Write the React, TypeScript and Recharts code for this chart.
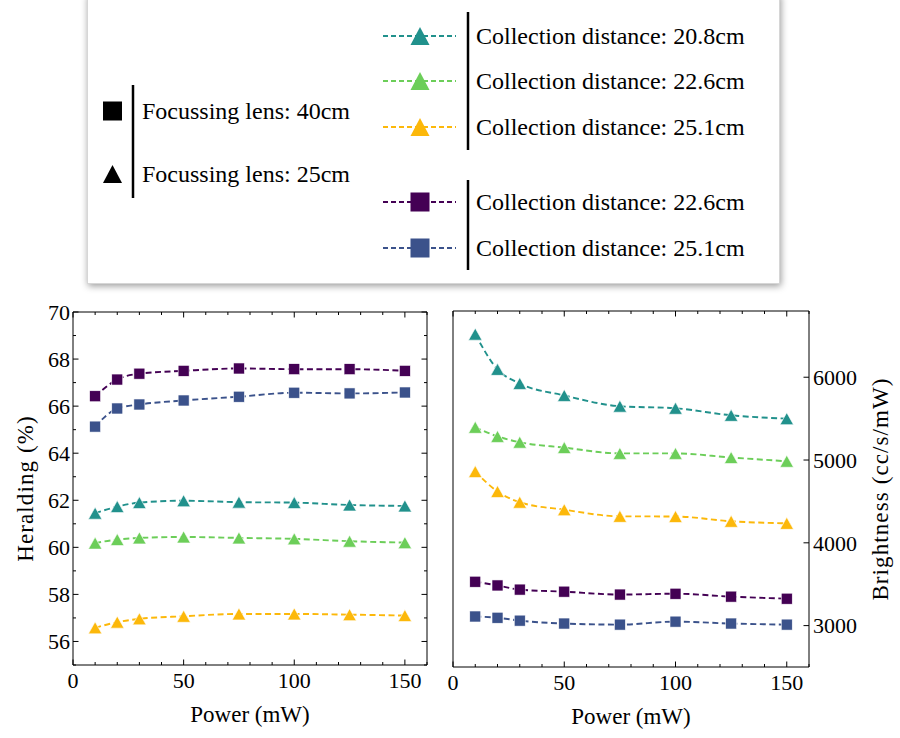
import React from 'react';
import { LineChart, Line, XAxis, YAxis } from 'recharts';

const power = [10, 20, 30, 50, 75, 100, 125, 150];

// heralding efficiency (%)
const herald40_226 = [66.42, 67.13, 67.38, 67.5, 67.6, 67.57, 67.57, 67.5];
const herald40_251 = [65.13, 65.9, 66.07, 66.24, 66.4, 66.57, 66.54, 66.58];
const herald25_208 = [61.45, 61.73, 61.9, 61.98, 61.92, 61.9, 61.8, 61.76];
const herald25_226 = [60.18, 60.33, 60.4, 60.44, 60.4, 60.36, 60.26, 60.2];
const herald25_251 = [56.58, 56.82, 56.96, 57.07, 57.17, 57.17, 57.14, 57.1];

// brightness (cc/s/mW)
const bright40_226 = [3530, 3485, 3435, 3410, 3375, 3385, 3350, 3325];
const bright40_251 = [3110, 3095, 3060, 3025, 3012, 3048, 3025, 3012];
const bright25_208 = [6520, 6095, 5925, 5780, 5650, 5625, 5540, 5500];
const bright25_226 = [5395, 5285, 5215, 5150, 5080, 5080, 5030, 4985];
const bright25_251 = [4860, 4620, 4490, 4400, 4320, 4318, 4260, 4235];

const xTicks = [0, 10, 20, 30, 40, 50, 60, 70, 80, 90, 100, 110, 120, 130, 140, 150, 160];
const xMajor = [0, 50, 100, 150];
const heraldTicks = [55, 56, 57, 58, 59, 60, 61, 62, 63, 64, 65, 66, 67, 68, 69, 70];
const heraldMajor = [56, 58, 60, 62, 64, 66, 68, 70];
const brightTicks = [3000, 4000, 5000, 6000];

const FONT = "'Liberation Serif', 'DejaVu Serif', serif";

const C = {
  purple: '#440154',
  blue: '#3b528b',
  teal: '#21918c',
  green: '#6cce59',
  yellow: '#fcb80a',
};

const series = [
  { key: 'sq226', color: C.purple, shape: 'sq' },
  { key: 'sq251', color: C.blue, shape: 'sq' },
  { key: 'tr208', color: C.teal, shape: 'tri' },
  { key: 'tr226', color: C.green, shape: 'tri' },
  { key: 'tr251', color: C.yellow, shape: 'tri' },
];

const heraldRows = power.map((p, i) => ({
  p,
  sq226: herald40_226[i],
  sq251: herald40_251[i],
  tr208: herald25_208[i],
  tr226: herald25_226[i],
  tr251: herald25_251[i],
}));

const brightRows = power.map((p, i) => ({
  p,
  sq226: bright40_226[i],
  sq251: bright40_251[i],
  tr208: bright25_208[i],
  tr226: bright25_226[i],
  tr251: bright25_251[i],
}));

const txt = { fontFamily: FONT, fontSize: 22, fill: '#000' };
const legendTxt = { fontFamily: FONT, fontSize: 24, fill: '#000' };

const makeDot = (color: string, shape: string) => (props: any) => {
  const { cx, cy, index } = props;
  if (cx == null || cy == null) return <g key={`d-${index}`} />;
  if (shape === 'sq') {
    const s = 11;
    return (
      <rect key={`d-${index}`} x={cx - s / 2} y={cy - s / 2} width={s} height={s}
        fill={color} stroke="#fff" strokeWidth={0.6} />
    );
  }
  const w = 13.5;
  const h = 12;
  return (
    <polygon key={`d-${index}`}
      points={`${cx},${cy - h / 2} ${cx - w / 2},${cy + h / 2} ${cx + w / 2},${cy + h / 2}`}
      fill={color} stroke="#fff" strokeWidth={0.6} />
  );
};

// inward ticks drawn by hand so major and minor share one axis; edge = plot border
const makeTick = (side: string, major: number[], labels: boolean, edge: number) => (props: any) => {
  const { x, y, payload } = props;
  const v = payload.value;
  const isMajor = major.includes(v);
  const len = isMajor ? 5.5 : 3;
  let line;
  let text = null;
  if (side === 'bottom') {
    line = <line x1={x} y1={edge} x2={x} y2={edge - len} stroke="#000" strokeWidth={1} />;
    if (labels && isMajor)
      text = <text x={x} y={edge + 8} dy="0.7em" textAnchor="middle" style={txt}>{v}</text>;
  } else if (side === 'top') {
    line = <line x1={x} y1={edge} x2={x} y2={edge + len} stroke="#000" strokeWidth={1} />;
  } else if (side === 'left') {
    line = <line x1={edge} y1={y} x2={edge + len} y2={y} stroke="#000" strokeWidth={1} />;
    if (labels && isMajor)
      text = <text x={edge - 3} y={y} dy="0.35em" textAnchor="end" style={txt}>{v}</text>;
  } else {
    line = <line x1={edge} y1={y} x2={edge - len} y2={y} stroke="#000" strokeWidth={1} />;
    if (labels && isMajor)
      text = <text x={edge + 4} y={y} dy="0.35em" textAnchor="start" style={txt}>{v}</text>;
  }
  return (
    <g>
      {line}
      {text}
    </g>
  );
};

const xLabelStyle = { textAnchor: 'middle' as const, fontFamily: FONT, fontSize: 23, fill: '#000' };
const yLabelStyle = { ...xLabelStyle, letterSpacing: 1.1 };

function Lines() {
  return series.map((s) => (
    <Line
      key={s.key}
      dataKey={s.key}
      type="monotone"
      stroke={s.color}
      strokeWidth={1.9}
      strokeDasharray="6 3.5"
      dot={makeDot(s.color, s.shape)}
      activeDot={false}
      isAnimationActive={false}
    />
  ));
}

// left plot area inside its svg: x 73..427, y 17..370
function HeraldingChart() {
  return (
    <LineChart width={440} height={443} data={heraldRows}
      margin={{ top: 16, right: 12, left: 13, bottom: 0 }}>
      <XAxis dataKey="p" type="number" domain={[0, 160]} ticks={xTicks} interval={0}
        tickSize={0} tickMargin={0} tickLine={false} axisLine={{ stroke: '#000' }}
        tick={makeTick('bottom', xMajor, true, 370)} height={73} allowDataOverflow
        label={{ value: 'Power (mW)', position: 'insideBottom', offset: 16, style: xLabelStyle }} />
      <XAxis xAxisId="top" orientation="top" dataKey="p" type="number" domain={[0, 160]} ticks={xTicks}
        interval={0} tickSize={0} tickMargin={0} tickLine={false} axisLine={{ stroke: '#000' }}
        tick={makeTick('top', xMajor, false, 17)} height={1} allowDataOverflow />
      <YAxis type="number" domain={[55, 70]} ticks={heraldTicks} interval={0}
        tickSize={0} tickMargin={0} tickLine={false} axisLine={{ stroke: '#000' }}
        tick={makeTick('left', heraldMajor, true, 73)} width={60} allowDataOverflow
        label={{ value: 'Heralding (%)', position: 'insideLeft', angle: -90, offset: 12, style: yLabelStyle }} />
      <YAxis yAxisId="right" orientation="right" type="number" domain={[55, 70]} ticks={heraldTicks}
        interval={0} tickSize={0} tickMargin={0} tickLine={false} axisLine={{ stroke: '#000' }}
        tick={makeTick('right', heraldMajor, false, 427)} width={1} allowDataOverflow />
      {Lines()}
    </LineChart>
  );
}

// right plot area inside its svg: x 13..369, y 16..372
function BrightnessChart() {
  return (
    <LineChart width={460} height={443} data={brightRows}
      margin={{ top: 15, right: 11, left: 12, bottom: 0 }}>
      <XAxis dataKey="p" type="number" domain={[0, 160]} ticks={xTicks} interval={0}
        tickSize={0} tickMargin={0} tickLine={false} axisLine={{ stroke: '#000' }}
        tick={makeTick('bottom', xMajor, true, 372)} height={71} allowDataOverflow
        label={{ value: 'Power (mW)', position: 'insideBottom', offset: 14, style: xLabelStyle }} />
      <XAxis xAxisId="top" orientation="top" dataKey="p" type="number" domain={[0, 160]} ticks={xTicks}
        interval={0} tickSize={0} tickMargin={0} tickLine={false} axisLine={{ stroke: '#000' }}
        tick={makeTick('top', xMajor, false, 16)} height={1} allowDataOverflow />
      <YAxis yAxisId="left" orientation="left" type="number" domain={[2500, 6800]} ticks={brightTicks}
        tick={false} tickLine={false} axisLine={{ stroke: '#000' }} width={1} allowDataOverflow />
      <YAxis orientation="right" type="number" domain={[2500, 6800]} ticks={brightTicks} interval={0}
        tickSize={0} tickMargin={0} tickLine={false} axisLine={{ stroke: '#000' }}
        tick={makeTick('right', brightTicks, true, 369)} width={80} allowDataOverflow
        label={{ value: 'Brightness (cc/s/mW)', position: 'insideRight', angle: -90, offset: 9, style: yLabelStyle }} />
      {Lines()}
    </LineChart>
  );
}

const lensRows = [
  { label: 'Focussing lens: 40cm', shape: 'sq', y: 111 },
  { label: 'Focussing lens: 25cm', shape: 'tri', y: 174 },
];

const distRows = [
  { label: 'Collection distance: 20.8cm', color: C.teal, shape: 'tri', y: 36 },
  { label: 'Collection distance: 22.6cm', color: C.green, shape: 'tri', y: 81 },
  { label: 'Collection distance: 25.1cm', color: C.yellow, shape: 'tri', y: 127 },
  { label: 'Collection distance: 22.6cm', color: C.purple, shape: 'sq', y: 202 },
  { label: 'Collection distance: 25.1cm', color: C.blue, shape: 'sq', y: 248 },
];

function marker(shape: string, cx: number, cy: number, color: string, size: number) {
  if (shape === 'sq')
    return <rect x={cx - size / 2} y={cy - size / 2} width={size} height={size} fill={color} />;
  const h = size * 0.95;
  return (
    <polygon points={`${cx},${cy - h / 2} ${cx - size / 2},${cy + h / 2} ${cx + size / 2},${cy + h / 2}`}
      fill={color} />
  );
}

function LegendBox() {
  return (
    <>
      <div style={{
        position: 'absolute', left: 87, top: -6, width: 691, height: 288,
        background: '#fff', border: '1px solid #d6d6d6',
        boxShadow: '1px 2px 7px rgba(0,0,0,0.4)',
      }} />
      <svg width={900} height={295} style={{ position: 'absolute', left: 0, top: 0 }}>
        {lensRows.map((r) => (
          <g key={r.label}>
            {marker(r.shape, 112.5, r.y, '#000', 19)}
            <text x={142} y={r.y} dy="0.35em" style={legendTxt}>{r.label}</text>
          </g>
        ))}
        <line x1={133} y1={85} x2={133} y2={198} stroke="#000" strokeWidth={2.5} />
        {distRows.map((r, i) => (
          <g key={i}>
            <line x1={383} y1={r.y} x2={456} y2={r.y} stroke={r.color} strokeWidth={2.2} strokeDasharray="5 3" />
            {marker(r.shape, 420, r.y, r.color, 19)}
            <text x={476} y={r.y} dy="0.35em" style={legendTxt}>{r.label}</text>
          </g>
        ))}
        <line x1={468} y1={12} x2={468} y2={150} stroke="#000" strokeWidth={2.5} />
        <line x1={468} y1={180} x2={468} y2={270} stroke="#000" strokeWidth={2.5} />
      </svg>
    </>
  );
}

export default function App() {
  return (
    <div style={{ position: 'absolute', left: 0, top: 0, width: 900, height: 738, background: '#fff', overflow: 'hidden', fontFamily: FONT }}>
      <LegendBox />
      <div style={{ position: 'absolute', left: 0, top: 295 }}>
        <HeraldingChart />
      </div>
      <div style={{ position: 'absolute', left: 440, top: 295 }}>
        <BrightnessChart />
      </div>
    </div>
  );
}
